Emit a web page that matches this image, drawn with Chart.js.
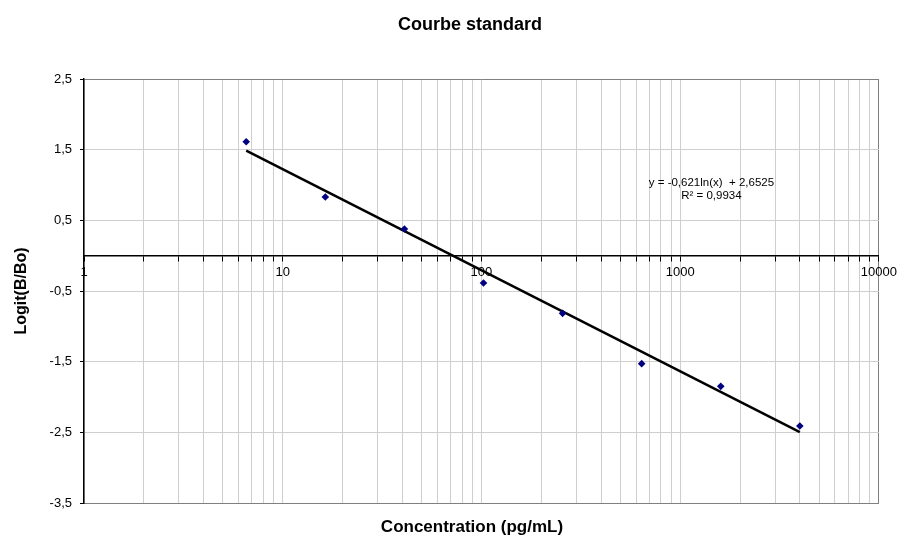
<!DOCTYPE html>
<html>
<head>
<meta charset="utf-8">
<title>Courbe standard</title>
<script src="https://cdn.jsdelivr.net/npm/chart.js@4.4.0/dist/chart.umd.min.js"></script>
<style>
  html, body { margin: 0; padding: 0; background: #fff; }
  #wrap { width: 901px; height: 538px; position: relative; }
</style>
</head>
<body>
<div id="wrap"><canvas id="courbe"></canvas></div>
<script>
// standards (pg/mL) and measured logit(B/Bo)
const concentrations = [6.55, 16.38, 40.96, 102.4, 256, 640, 1600, 4000];
const logitValues = [1.613, 0.830, 0.377, -0.387, -0.816, -1.528, -1.849, -2.41];

// log fit y = -0,621ln(x) + 2,6525, ends
const trendX = [6.55, 4000];
const trendY = [1.486, -2.498];

const yTicks = [-3.5, -2.5, -1.5, -0.5, 0.5, 1.5, 2.5];
const xDecades = [1, 10, 100, 1000, 10000];
const xTicks = [];
xDecades.forEach(d => {
    for (let m = 1; m <= 9; m++) {
        if (d * m <= 10000) xTicks.push(d * m);
    }
});

const chartTitle = 'Courbe standard';
const xTitle = 'Concentration (pg/mL)';
const equationLines = ['y = -0,621ln(x)  + 2,6525', 'R\u00b2 = 0,9934'];
const equationAt = {x: 1436, y: 1.028};

const FONT = '"Liberation Sans", Arial, sans-serif';
Chart.defaults.font.family = FONT;
Chart.defaults.color = '#000';

// Excel centres the titles on the whole chart object, not on the canvas,
// so they are drawn here instead of with the title plugin
const textLayer = {
    id: 'textLayer',
    afterDatasetsDraw(chart) {
        const {ctx, scales} = chart;
        ctx.save();
        ctx.fillStyle = '#000';
        ctx.textAlign = 'center';
        ctx.textBaseline = 'middle';

        ctx.font = 'bold 18px ' + FONT;
        ctx.fillText(chartTitle, 470, 25);

        ctx.font = 'bold 17px ' + FONT;
        ctx.fillText(xTitle, 472, 527);

        const px = scales.x.getPixelForValue(equationAt.x);
        const py = scales.y.getPixelForValue(equationAt.y);
        ctx.font = '11.5px ' + FONT;
        equationLines.forEach((t, i) => ctx.fillText(t, px, py + i * 13));
        ctx.restore();
    }
};

const setTicks = values => scale => {
    scale.ticks = values.map(v => ({value: v}));
};

new Chart(document.getElementById('courbe'), {
    type: 'scatter',
    data: {
        datasets: [{
            label: 'Standards',
            data: concentrations.map((c, i) => ({x: c, y: logitValues[i]})),
            pointStyle: 'rectRot',
            radius: 3.8,
            backgroundColor: '#000080',
            borderColor: '#000080',
            borderWidth: 0,
            order: 1
        }, {
            label: 'Logarithmique',
            type: 'line',
            data: trendX.map((c, i) => ({x: c, y: trendY[i]})),
            borderColor: '#000',
            borderWidth: 2.5,
            pointRadius: 0,
            fill: false,
            order: 2
        }]
    },
    options: {
        responsive: true,
        maintainAspectRatio: false,
        animation: false,
        layout: {
            padding: {left: 0, right: 22, top: 79, bottom: 0}
        },
        plugins: {
            legend: {display: false},
            tooltip: {enabled: false},
            title: {display: false}
        },
        scales: {
            x: {
                type: 'logarithmic',
                position: 'bottom',
                min: 1,
                max: 10000,
                afterBuildTicks: setTicks(xTicks),
                afterFit: s => { s.height = 35; },
                ticks: {display: false},
                grid: {
                    drawTicks: false,
                    color: ctx => (ctx.tick && ctx.tick.value === 10000) ? '#808080' : '#cfcfcf'
                },
                border: {display: true, color: '#808080', width: 1}
            },
            x2: {
                type: 'logarithmic',
                position: {y: 0},
                min: 1,
                max: 10000,
                afterBuildTicks: setTicks(xTicks),
                ticks: {
                    autoSkip: false,
                    maxRotation: 0,
                    padding: 4,
                    font: {size: 13},
                    color: '#000',
                    callback: v => Number.isInteger(Math.log10(v)) ? String(v) : ''
                },
                grid: {
                    drawOnChartArea: false,
                    drawTicks: true,
                    tickLength: 5,
                    tickColor: '#000'
                },
                border: {display: true, color: '#000', width: 1.5}
            },
            y: {
                type: 'linear',
                min: -3.5,
                max: 2.5,
                afterBuildTicks: setTicks(yTicks),
                afterFit: s => { s.width = 84; },
                ticks: {
                    padding: 8,
                    font: {size: 13},
                    color: '#000',
                    callback: v => String(v).replace('.', ',')
                },
                grid: {
                    tickLength: 4,
                    tickColor: '#000',
                    color: ctx => (ctx.tick && (ctx.tick.value === 2.5 || ctx.tick.value === -3.5)) ? '#808080' : '#cfcfcf'
                },
                border: {display: true, color: '#000', width: 1.5},
                title: {
                    display: true,
                    text: 'Logit(B/Bo)',
                    font: {size: 16, weight: 'bold'},
                    color: '#000',
                    padding: {top: 12.4, bottom: 0}
                }
            }
        }
    },
    plugins: [textLayer]
});
</script>
</body>
</html>
